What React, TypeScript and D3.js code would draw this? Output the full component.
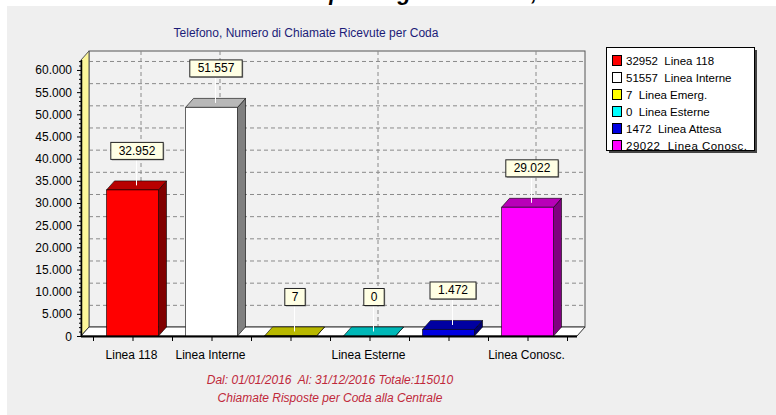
import React from 'react';
import * as d3 from 'd3';

// values
const categories = ['Linea 118', 'Linea Interne', 'Linea Emerg.', 'Linea Esterne', 'Linea Attesa', 'Linea Conosc.'];
const values = [32952, 51557, 7, 0, 1472, 29022];
const colors = ['#ff0000', '#ffffff', '#ffff00', '#00ffff', '#0000e0', '#ff00ff'];
const shownLabels = ['Linea 118', 'Linea Interne', 'Linea Esterne', 'Linea Conosc.'];
const yTicks = d3.range(0, 60001, 5000);
const total = 115010;

const width = 776;
const height = 415;
const font = '"Liberation Sans", Arial, sans-serif';

const it = d3.formatLocale({ decimal: ',', thousands: '.', grouping: [3], currency: ['€', ''] });
const fmt = it.format(',d');

const shade = (c: string, k: number) => {
  const rgb = d3.rgb(c);
  return d3.rgb(rgb.r * k, rgb.g * k, rgb.b * k).formatHex();
};

export default function App() {
  // 3d chart frame
  const axisLeft = 81;
  const axisRight = 577;
  const floorY = 336;
  const topY = 60;
  const dx = 8;
  const dy = 9;
  const barW = 52;

  const y = d3.scaleLinear().domain([0, 62250]).range([floorY, topY]);
  const x = d3.scaleBand<string>().domain(categories).range([93, 567]);
  const cx = (c: string) => (x(c) as number) + x.bandwidth() / 2;

  const minorTicks = d3.range(0, 62001, 1000).filter(v => v % 5000 !== 0);
  const xTicks = d3.range(0, categories.length * 2 + 1).map(i => 93 + (i * x.bandwidth()) / 2);

  return (
    <div>
      <style>{`body{margin:0;background:#fff}`}</style>
      <svg width={width} height={height} style={{ display: 'block', fontFamily: font }}>
        {/* page heading cut by the top edge, as in the reference: only descenders show */}
        <text x={224} y={0} fontSize={22} fontWeight="bold" fontStyle="italic" fill="#000">
          Chiamate prolungate e Totale, Anno 2016
        </text>
        <rect x={7} y={6} width={width - 7} height={height - 6} fill="#efefef" />

        <text x={306} y={37} textAnchor="middle" fontSize={12} fill="#1c1c78">
          Telefono, Numero di Chiamate Ricevute per Coda
        </text>

        {/* back wall */}
        <rect x={axisLeft + dx} y={topY - dy} width={axisRight - axisLeft} height={floorY - topY}
          fill="#f1f1f1" stroke="#555" strokeWidth={1} />
        {yTicks.filter(v => v > 0).map(v => (
          <line key={`gh-${v}`} x1={axisLeft + dx} x2={axisRight + dx} y1={y(v) - dy + 0.5} y2={y(v) - dy + 0.5}
            stroke="#8a8a8a" strokeDasharray="4,3" />
        ))}
        {shownLabels.map(c => (
          <line key={`gv-${c}`} x1={cx(c) + dx + 0.5} x2={cx(c) + dx + 0.5} y1={topY - dy} y2={floorY - dy}
            stroke="#8a8a8a" strokeDasharray="4,3" />
        ))}

        {/* left wall */}
        <polygon
          points={`${axisLeft},${topY} ${axisLeft + dx},${topY - dy} ${axisLeft + dx},${floorY - dy} ${axisLeft},${floorY}`}
          fill="#fdf79a" stroke="#555" />

        {/* floor */}
        <polygon
          points={`${axisLeft},${floorY} ${axisLeft + dx},${floorY - dy} ${axisRight + dx},${floorY - dy} ${axisRight},${floorY}`}
          fill="#ffffff" stroke="#333" />

        {/* bars */}
        {categories.map((c, i) => {
          const x0 = cx(c) - barW / 2;
          const x1 = x0 + barW;
          const yt = y(values[i]);
          const col = colors[i];
          return (
            <g key={`bar-${c}`} stroke="#000" strokeWidth={0.6} strokeLinejoin="round">
              <polygon points={`${x1},${yt} ${x1 + dx},${yt - dy} ${x1 + dx},${floorY - dy} ${x1},${floorY}`}
                fill={shade(col, 0.5)} />
              <polygon points={`${x0},${yt} ${x0 + dx},${yt - dy} ${x1 + dx},${yt - dy} ${x1},${yt}`}
                fill={shade(col, 0.72)} />
              <rect x={x0} y={yt} width={barW} height={floorY - yt} fill={col} />
            </g>
          );
        })}

        {/* axes */}
        <line x1={axisLeft} x2={axisRight} y1={floorY + 0.5} y2={floorY + 0.5} stroke="#000" strokeWidth={2} />
        <line x1={axisLeft + 0.5} x2={axisLeft + 0.5} y1={topY} y2={floorY} stroke="#000" strokeWidth={1.5} />
        {yTicks.map(v => (
          <g key={`yt-${v}`}>
            <line x1={axisLeft - 4} x2={axisLeft} y1={y(v) + 0.5} y2={y(v) + 0.5} stroke="#000" />
            <text x={72} y={y(v) + 4.5} textAnchor="end" fontSize={12} fill="#000">{fmt(v)}</text>
          </g>
        ))}
        {minorTicks.map(v => (
          <line key={`ym-${v}`} x1={axisLeft - 2} x2={axisLeft} y1={y(v) + 0.5} y2={y(v) + 0.5} stroke="#000" />
        ))}
        {xTicks.map((t, i) => (
          <line key={`xt-${i}`} x1={t + 0.5} x2={t + 0.5} y1={floorY + 1} y2={floorY + 5} stroke="#000" />
        ))}
        {shownLabels.map(c => (
          <text key={`xl-${c}`} x={cx(c) - 1} y={359} textAnchor="middle" fontSize={12} fill="#000">{c}</text>
        ))}

        {/* value marks */}
        {categories.map((c, i) => {
          const lx = cx(c) + dx / 2;
          const topBack = y(values[i]) - dy;
          const label = fmt(values[i]);
          const bw = label.length * 6.4 + 14;
          const bh = 17;
          const by = topBack - 22 - bh;
          return (
            <g key={`lab-${c}`}>
              <line x1={lx} x2={lx} y1={by + bh} y2={y(values[i]) - dy / 2} stroke="#fff" strokeWidth={1} />
              <rect x={lx - bw / 2 + 1.5} y={by + 1.5} width={bw} height={bh} fill="#9a9a9a" />
              <rect x={lx - bw / 2 + 0.5} y={by + 0.5} width={bw} height={bh} fill="#ffffe4" stroke="#222" />
              <text x={lx + 0.5} y={by + 13} textAnchor="middle" fontSize={12} fill="#000">{label}</text>
            </g>
          );
        })}

        {/* legend */}
        <g>
          <rect x={609} y={50} width={148} height={103} fill="#444" />
          <rect x={606.5} y={47.5} width={148} height={103} fill="#fff" stroke="#000" />
          {categories.map((c, i) => (
            <g key={`leg-${c}`}>
              <rect x={612.5} y={55.5 + i * 17} width={9} height={10} fill={colors[i]} stroke="#000" />
              <text x={626} y={65 + i * 17} fontSize={11.5} fill="#000" style={{ whiteSpace: 'pre' }}
                textLength={i === 5 ? 121 : undefined}>
                {`${values[i]}  ${c}`}
              </text>
            </g>
          ))}
        </g>

        {/* footer */}
        <text x={330} y={384} textAnchor="middle" fontSize={12} fontStyle="italic" fill="#c0283a"
          style={{ whiteSpace: 'pre' }}>
          {`Dal: 01/01/2016  Al: 31/12/2016 Totale:${total}`}
        </text>
        <text x={330} y={402} textAnchor="middle" fontSize={12} fontStyle="italic" fill="#c0283a">
          Chiamate Risposte per Coda alla Centrale
        </text>
      </svg>
    </div>
  );
}
